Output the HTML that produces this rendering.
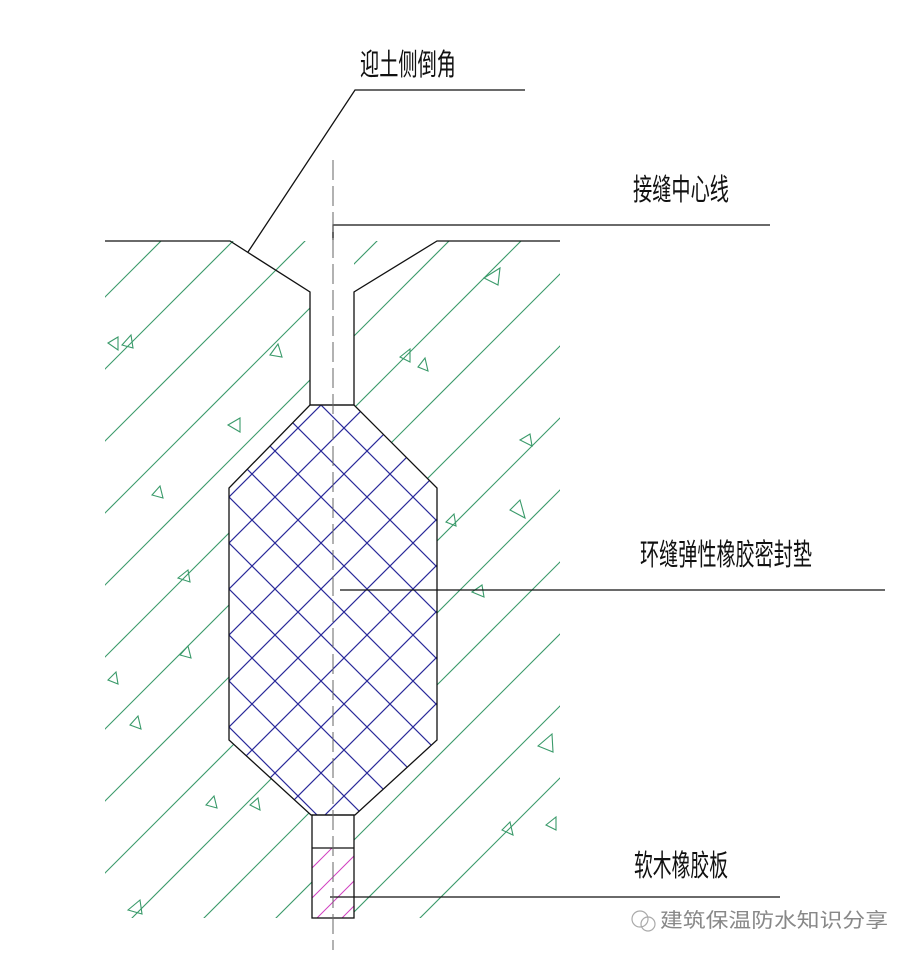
<!DOCTYPE html>
<html><head><meta charset="utf-8"><style>html,body{margin:0;padding:0;background:#fff;width:917px;height:958px;overflow:hidden}svg{display:block}</style></head><body>
<svg width="917" height="958" viewBox="0 0 917 958" xmlns="http://www.w3.org/2000/svg">
<defs>
<clipPath id="conc"><rect x="105" y="241" width="455" height="677"/></clipPath>
<clipPath id="oct"><polygon points="310,405 354,405 437,488 437,740 355,815 311,815 229,740 229,488"/></clipPath>
<clipPath id="pink"><rect x="312" y="848" width="42" height="70"/></clipPath>
<pattern id="xh" width="46" height="46" patternUnits="userSpaceOnUse" x="229" y="497">
<path d="M0,0 L46,46 M46,0 L0,46 M-23,23 L0,46 M23,-23 L69,23" stroke="#2a2a9a" stroke-width="1.2" fill="none"/>
</pattern>
</defs>
<g clip-path="url(#conc)" stroke="#3a9a6a" stroke-width="1.1">
<line x1="0" y1="330" x2="400" y2="-70"/>
<line x1="0" y1="402" x2="500" y2="-98"/>
<line x1="0" y1="474" x2="600" y2="-126"/>
<line x1="0" y1="546" x2="700" y2="-154"/>
<line x1="0" y1="618" x2="800" y2="-182"/>
<line x1="0" y1="690" x2="900" y2="-210"/>
<line x1="0" y1="762" x2="1000" y2="-238"/>
<line x1="0" y1="834" x2="1100" y2="-266"/>
<line x1="0" y1="906" x2="1200" y2="-294"/>
<line x1="0" y1="978" x2="1300" y2="-322"/>
<line x1="0" y1="1050" x2="1400" y2="-350"/>
<line x1="0" y1="1122" x2="1500" y2="-378"/>
<line x1="0" y1="1194" x2="1600" y2="-406"/>
<line x1="0" y1="1266" x2="1700" y2="-434"/>
<line x1="0" y1="1338" x2="1800" y2="-462"/>
</g>
<g fill="none" stroke="#3a9a6a" stroke-width="1.1">
<polygon points="484,278 500,268 498,285"/>
<polygon points="108,343 118,337 118,350"/>
<polygon points="122,345 131,335 133,348"/>
<polygon points="270,355 278,344 282,357"/>
<polygon points="400,357 410,349 410,362"/>
<polygon points="418,367 425,358 428,371"/>
<polygon points="228,425 240,418 240,432"/>
<polygon points="520,440 530,434 532,446"/>
<polygon points="152,495 160,486 163,498"/>
<polygon points="446,522 454,514 456,526"/>
<polygon points="510,510 520,500 525,518"/>
<polygon points="178,578 188,570 190,582"/>
<polygon points="472,592 482,585 484,597"/>
<polygon points="180,655 188,646 191,658"/>
<polygon points="108,680 116,672 118,684"/>
<polygon points="130,725 138,716 141,729"/>
<polygon points="538,746 552,734 553,752"/>
<polygon points="206,805 214,796 217,808"/>
<polygon points="250,805 258,798 260,810"/>
<polygon points="502,830 510,822 513,835"/>
<polygon points="546,825 556,817 556,830"/>
<polygon points="128,910 140,900 142,914"/>
</g>
<polygon points="310,230 354,230 354,405 437,488 437,740 355,815 311,815 229,740 229,488 310,405" fill="#fff"/>
<rect x="312" y="815" width="42" height="103" fill="#fff"/>
<rect x="229" y="405" width="208" height="410" fill="url(#xh)" clip-path="url(#oct)"/>
<g clip-path="url(#pink)" stroke="#d040c0" stroke-width="1">
<line x1="300" y1="880" x2="340" y2="840"/>
<line x1="300" y1="910" x2="360" y2="850"/>
<line x1="310" y1="925" x2="370" y2="865"/>
<line x1="330" y1="930" x2="380" y2="880"/>
</g>
<g fill="none" stroke="#111" stroke-width="1.3">
<polyline points="105,241 230,241 310,292 310,405 354,405 354,292 437,241 560,241"/>
<polygon points="310,405 354,405 437,488 437,740 355,815 311,815 229,740 229,488"/>
<rect x="312" y="815" width="42" height="103"/>
<line x1="312" y1="848" x2="354" y2="848"/>
<polyline points="248,252 355,90 525,90"/>
<polyline points="333,240 333,225 770,225"/>
<line x1="340" y1="590" x2="885" y2="590"/>
<line x1="330" y1="897" x2="780" y2="897"/>
</g>
<line x1="333" y1="160" x2="333" y2="950" stroke="#666" stroke-width="1" stroke-dasharray="20,6"/>
<g font-family="Liberation Sans, Noto Sans CJK SC, sans-serif" font-size="30" fill="#111">
<text x="360" y="75" textLength="96" lengthAdjust="spacingAndGlyphs">迎土侧倒角</text>
<text x="633" y="200" textLength="96" lengthAdjust="spacingAndGlyphs">接缝中心线</text>
<text x="640" y="565" textLength="172" lengthAdjust="spacingAndGlyphs">环缝弹性橡胶密封垫</text>
<text x="634" y="876" textLength="94" lengthAdjust="spacingAndGlyphs">软木橡胶板</text>
</g>
<text x="660" y="927" font-family="Liberation Sans, Noto Sans CJK SC, sans-serif" font-size="20" fill="#888" textLength="228" lengthAdjust="spacingAndGlyphs">建筑保温防水知识分享</text>
<circle cx="640" cy="919" r="8" fill="none" stroke="#aaa" stroke-width="1.2"/>
<circle cx="648" cy="924" r="7" fill="none" stroke="#aaa" stroke-width="1.2"/>
</svg>
</body></html>
